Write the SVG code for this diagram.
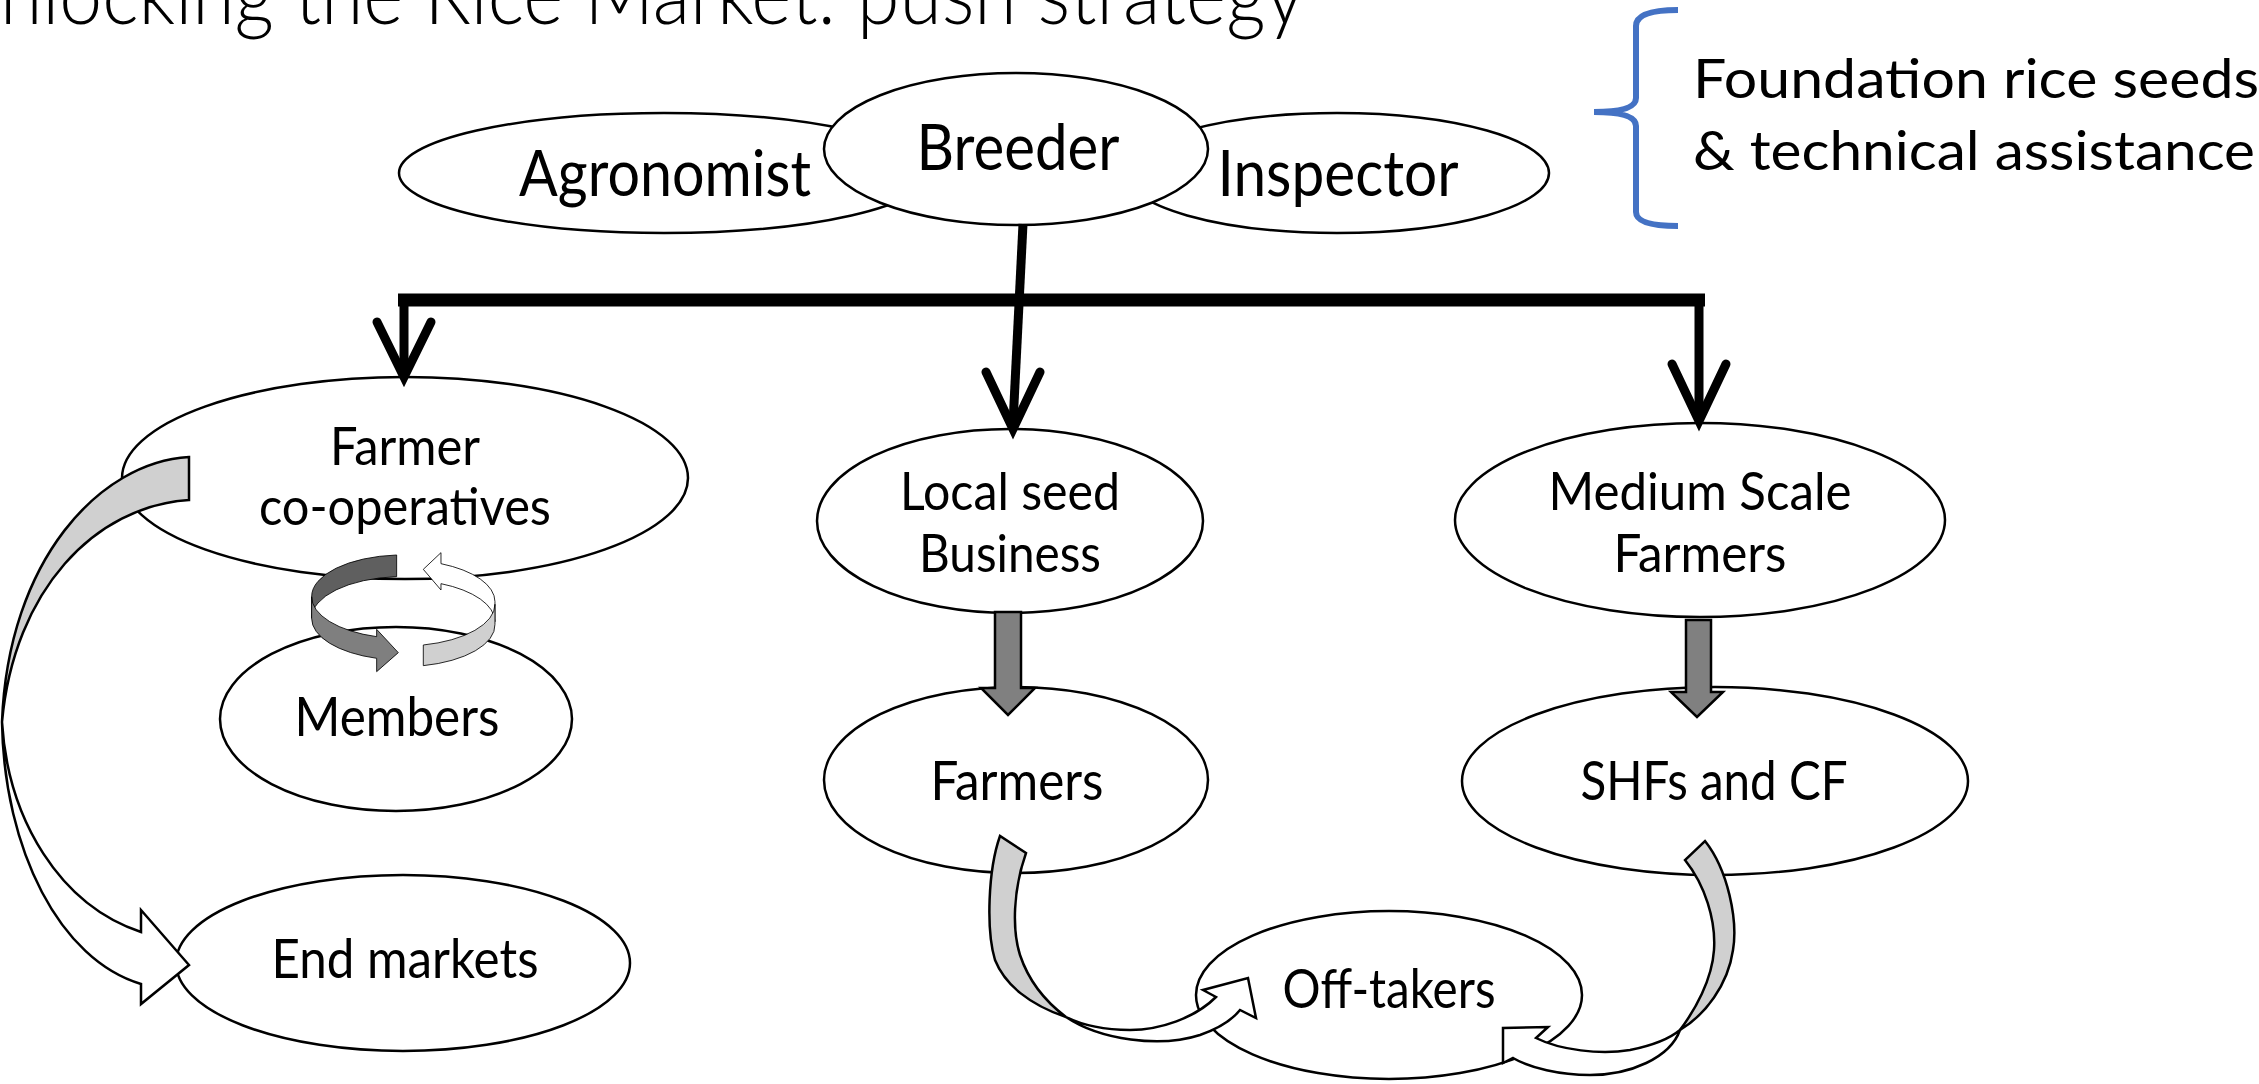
<svg xmlns="http://www.w3.org/2000/svg" width="2259" height="1084" viewBox="0 0 2259 1084">
<style>
.n{fill:#fff;stroke:#000;stroke-width:2.5}
.t{font-family:Lato,"Open Sans","Liberation Sans",sans-serif;fill:#000;text-anchor:middle}
.lt{text-anchor:start}
.big{font-size:64px}
.mid{font-size:55px}
.two{font-size:52px}
.bar{stroke:#000;fill:none;stroke-linecap:butt}
.ah{stroke:#000;fill:none;stroke-width:9;stroke-linecap:round;stroke-linejoin:miter}
.dk{fill:#808080;stroke:#000;stroke-width:2.5;stroke-linejoin:miter}
.lg{fill:#d0d0d0;stroke:#000;stroke-width:2.5;stroke-linejoin:miter}
.wh{fill:#fff;stroke:#000;stroke-width:2.5;stroke-linejoin:miter}
.d1{fill:#5f5f5f;stroke:#000;stroke-width:2.5}
.d2{fill:#7f7f7f;stroke:#000;stroke-width:2.5}
</style>
<rect width="2259" height="1084" fill="#fff"/>
<text id="title" class="t lt" x="0" y="24" font-size="84" font-weight="300" textLength="1304" lengthAdjust="spacingAndGlyphs">nlocking the Rice Market: push strategy</text>

<g id="agronomist"><ellipse class="n" cx="664" cy="173" rx="265" ry="60"/><text class="t big" x="665" y="196" textLength="292" lengthAdjust="spacingAndGlyphs">Agronomist</text></g>
<g id="inspector"><ellipse class="n" cx="1337" cy="173" rx="212" ry="60"/><text class="t big" x="1338" y="196" textLength="241" lengthAdjust="spacingAndGlyphs">Inspector</text></g>
<g id="breeder"><ellipse class="n" cx="1016" cy="149" rx="192" ry="76"/><text class="t big" x="1018" y="170" textLength="203" lengthAdjust="spacingAndGlyphs">Breeder</text></g>

<g id="brace-note">
<path d="M1678,10 Q1636,10 1636,26 L1636,98 Q1636,112 1594,112 Q1636,112 1636,126 L1636,212 Q1636,226 1678,226" fill="none" stroke="#4472C4" stroke-width="6"/>
<text class="t lt mid" x="1693" y="98" textLength="566" lengthAdjust="spacingAndGlyphs">Foundation rice seeds</text>
<text class="t lt mid" x="1693" y="170" textLength="562" lengthAdjust="spacingAndGlyphs">&amp; technical assistance</text>
</g>

<g id="farmer-coops"><ellipse class="n" cx="405" cy="478" rx="283" ry="101"/><text class="t two" x="405" y="465" textLength="150" lengthAdjust="spacingAndGlyphs">Farmer</text><text class="t two" x="405" y="525" textLength="292" lengthAdjust="spacingAndGlyphs">co-operatives</text></g>
<g id="local-seed"><ellipse class="n" cx="1010" cy="521" rx="193" ry="92"/><text class="t two" x="1010" y="510" textLength="220" lengthAdjust="spacingAndGlyphs">Local seed</text><text class="t two" x="1010" y="572" textLength="182" lengthAdjust="spacingAndGlyphs">Business</text></g>
<g id="medium-scale"><ellipse class="n" cx="1700" cy="520" rx="245" ry="97"/><text class="t two" x="1700" y="510" textLength="303" lengthAdjust="spacingAndGlyphs">Medium Scale</text><text class="t two" x="1700" y="572" textLength="173" lengthAdjust="spacingAndGlyphs">Farmers</text></g>
<g id="members"><ellipse class="n" cx="396" cy="719" rx="176" ry="92"/><text class="t mid" x="397" y="736" textLength="205" lengthAdjust="spacingAndGlyphs">Members</text></g>
<g id="farmers"><ellipse class="n" cx="1016" cy="780" rx="192" ry="93"/><text class="t mid" x="1017" y="800" textLength="173" lengthAdjust="spacingAndGlyphs">Farmers</text></g>
<g id="shfs"><ellipse class="n" cx="1715" cy="781" rx="253" ry="94"/><text class="t mid" x="1714" y="800" textLength="267" lengthAdjust="spacingAndGlyphs">SHFs and CF</text></g>
<g id="end-markets"><ellipse class="n" cx="403" cy="963" rx="227" ry="88"/><text class="t mid" x="405" y="978" textLength="267" lengthAdjust="spacingAndGlyphs">End markets</text></g>
<g id="off-takers"><ellipse class="n" cx="1389" cy="995" rx="193" ry="84"/><text class="t mid" x="1389" y="1008" textLength="213" lengthAdjust="spacingAndGlyphs">Off-takers</text></g>

<g id="connectors">
<line class="bar" x1="1023" y1="224" x2="1013" y2="424" stroke-width="9"/>
<line class="bar" x1="398" y1="300" x2="1705" y2="300" stroke-width="13"/>
<line class="bar" x1="404" y1="294" x2="404" y2="372" stroke-width="9"/>
<line class="bar" x1="1699" y1="294" x2="1699" y2="416" stroke-width="9"/>
<polyline class="ah" points="377,322 404,377 431,322"/>
<polyline class="ah" points="986,372 1013,429 1040,372"/>
<polyline class="ah" points="1672,364 1699,421 1726,364"/>

<path class="dk" d="M995,612 L1021,612 L1021,688 L1035,688 L1008,715 L981,688 L995,688 Z"/>
<path class="dk" d="M1686,620 L1711,620 L1711,692 L1723,692 L1697,717 L1671,692 L1686,692 Z"/>

<g transform="translate(150,540) scale(0.3333)">
<path class="d1" d="M740,45 A275,125 0 0 0 485,170 L485,235 A275,125 0 0 1 740,110 Z"/>
<path class="wh" d="M1035,185 A275,125 0 0 0 873,71 L873,38 L820,88 L873,150 L873,131 A275,125 0 0 1 1035,245 Z"/>
<path class="lg" d="M820,315 A275,125 0 0 0 1035,193 L1035,253 A275,125 0 0 1 820,377 Z"/>
<path class="d2" d="M485,170 A275,125 0 0 0 680,290 L680,268 L745,338 L680,395 L680,355 A275,125 0 0 1 485,235 Z"/>
</g>

<path class="lg" d="M189,457 C100,462 8,560 2,722 C14,590 95,506 189,500 Z"/>
<path class="wh" d="M2,722 C4,850 60,960 141,984 L141,1004 L189,965 L141,910 L141,932 C60,905 8,820 2,722 Z"/>

<path class="lg" d="M1000,836 C988,870 986,930 995,960 C1005,985 1030,1005 1066,1017 C1050,1005 1030,985 1020,955 C1012,930 1013,890 1026,853 Z"/>
<path class="wh" d="M1066,1017 C1100,1040 1160,1048 1200,1035 C1220,1028 1232,1020 1240,1010 L1256,1018 L1248,978 L1203,990 L1216,997 C1195,1018 1160,1030 1130,1030 C1100,1030 1080,1024 1066,1017 Z"/>

<path class="lg" d="M1705,841 C1728,870 1738,920 1733,950 C1728,985 1705,1015 1680,1030 C1695,1010 1712,980 1714,950 C1716,920 1705,885 1685,860 Z"/>
<path class="wh" d="M1680,1030 C1670,1058 1630,1075 1590,1075 C1560,1075 1530,1068 1513,1058 L1503,1063 L1503,1028 L1548,1027 L1536,1038 C1560,1050 1600,1055 1630,1050 C1650,1046 1668,1040 1680,1030 Z"/>
</g>
</svg>
